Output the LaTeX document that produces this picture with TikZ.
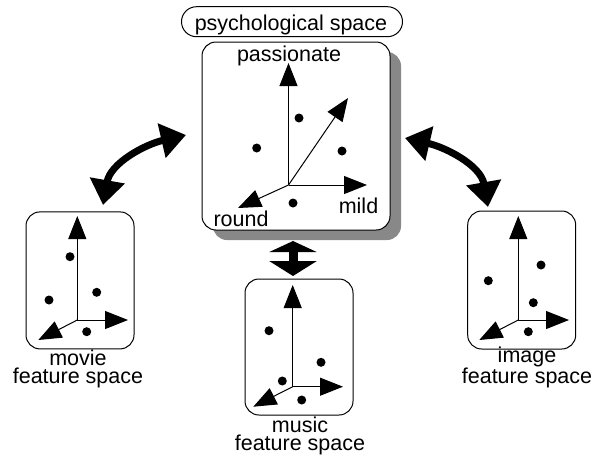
\documentclass[tikz,border=0pt]{standalone}
\usepackage{fontspec}
\setmainfont{Liberation Sans}
\usetikzlibrary{arrows.meta,shapes.misc}
\definecolor{shadowgray}{HTML}{888888}
\begin{document}
\begin{tikzpicture}[x=1pt,y=-1pt,
  lbl/.style={font=\fontsize{21.5}{18.5}\selectfont, inner sep=0pt, align=center},
  spacebox/.style={draw=black, line width=1pt, rounded corners=14pt, fill=white, inner sep=0pt},
  ax/.style={line width=1pt, -{Triangle[width=18pt,length=23pt]}},
  dot/.style={circle, fill=black, inner sep=0pt, minimum size=9pt},
  bigarr/.style={line width=7pt, {Triangle[width=34pt,length=25pt]}-{Triangle[width=34pt,length=25pt]}},
]
\useasboundingbox (0,0) rectangle (607,456);
% ---------- psychological space ----------
\node[spacebox, draw=none, fill=shadowgray, minimum width=188pt, minimum height=188pt] (shadow) at (307,146) {};
\node[spacebox, minimum width=188pt, minimum height=188pt] (main) at (296,136) {};
\node[rounded rectangle, draw, line width=1pt, minimum width=221pt, minimum height=30pt, inner sep=0pt] (title) at (292,21.7) {};
\node[lbl, anchor=base] (titletext) at (291,30) {psychological space};
\node[lbl, anchor=base] (pass) at (289,61) {passionate};
\node[lbl, anchor=base] (round) at (241,226.5) {round};
\node[lbl, anchor=base] (mild) at (358.5,213.3) {mild};
\coordinate (mo) at (288.5,185);
\coordinate (mup) at (288.5,63);
\coordinate (mright) at (367,185);
\coordinate (mdiag) at (348,98);
\coordinate (mdl) at (238,208);
\draw[ax] (mo) -- (mup);
\draw[ax] (mo) -- (mright);
\draw[ax] (mo) -- (mdiag);
\draw[ax] (mo) -- (mdl);
\node[dot] (md1) at (299,118) {};
\node[dot] (md2) at (256.7,148) {};
\node[dot] (md3) at (342,151) {};
\node[dot] (md4) at (293,203) {};
% ---------- movie ----------
\node[spacebox, minimum width=108pt, minimum height=137pt] (movie) at (80,280.4) {};
\coordinate (vo) at (77.3,320);
\coordinate (vup) at (77.3,216);
\coordinate (vright) at (128,320);
\coordinate (vdl) at (38.3,340);
\draw[ax] (vo) -- (vup);
\draw[ax] (vo) -- (vright);
\draw[ax] (vo) -- (vdl);
\node[dot] (vd1) at (70,256.7) {};
\node[dot] (vd2) at (49,300) {};
\node[dot] (vd3) at (96.7,292.3) {};
\node[dot] (vd4) at (86.7,331.7) {};
\node[lbl, anchor=base] (movietext) at (78,383.8) {movie\\feature space};
% ---------- music ----------
\node[spacebox, minimum width=108pt, minimum height=136pt] (music) at (299,347) {};
\coordinate (uo) at (292.7,386.7);
\coordinate (uup) at (292.7,285);
\coordinate (uright) at (343,386.7);
\coordinate (udl) at (253.3,406.7);
\draw[ax] (uo) -- (uup);
\draw[ax] (uo) -- (uright);
\draw[ax] (uo) -- (udl);
\node[dot] (ud1) at (269,330.7) {};
\node[dot] (ud2) at (321,362.3) {};
\node[dot] (ud3) at (282.3,381) {};
\node[dot] (ud4) at (301.7,400) {};
\node[lbl, anchor=base] (musictext) at (300,450.5) {music\\feature space};
% ---------- image ----------
\node[spacebox, minimum width=108pt, minimum height=138pt] (image) at (521.7,280) {};
\coordinate (io) at (518.3,320);
\coordinate (iup) at (518.3,216);
\coordinate (iright) at (569,320);
\coordinate (idl) at (479.3,340);
\draw[ax] (io) -- (iup);
\draw[ax] (io) -- (iright);
\draw[ax] (io) -- (idl);
\node[dot] (id1) at (488.3,280.7) {};
\node[dot] (id2) at (541,265) {};
\node[dot] (id3) at (533.3,302.7) {};
\node[dot] (id4) at (528.3,331.7) {};
\node[lbl, anchor=base] (imagetext) at (527,383.8) {image\\feature space};
% ---------- links ----------
\coordinate (L1) at (103,205);
\coordinate (L2) at (186,135);
\draw[bigarr] (L1) to[out=80, in=193] (L2);
\coordinate (R1) at (405,138);
\coordinate (R2) at (488,207);
\draw[bigarr] (R1) to[out=-13, in=100] (R2);
\coordinate (U1) at (293,241);
\coordinate (U2) at (293,276);
\draw[line width=9pt, {Triangle[width=47pt,length=11pt]}-{Triangle[width=47pt,length=15pt]}] (U1) -- (U2);
\end{tikzpicture}
\end{document}
